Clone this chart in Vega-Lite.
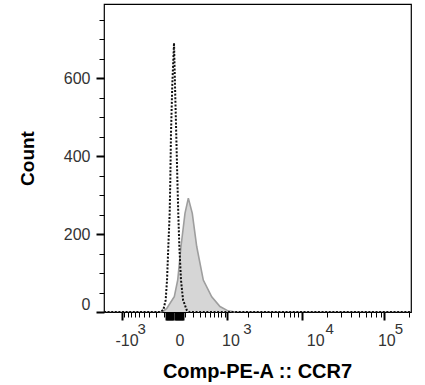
{
  "$schema": "https://vega.github.io/schema/vega-lite/v6.json",
  "width": 307,
  "height": 308,
  "autosize": "none",
  "padding": {"left": 104, "top": 4, "right": 14, "bottom": 73},
  "background": "white",
  "config": {
    "view": {"stroke": "#000000", "strokeWidth": 1.2},
    "axis": {"grid": false, "domain": false, "labelFont": "Liberation Sans", "titleFont": "Liberation Sans", "labelColor": "#333333", "titleColor": "#000000", "tickColor": "#000000"}
  },
  "datasets": {
    "ctrl": [
      {"v": -1815, "c": 0}, {"v": -150, "c": 0}, {"v": -109, "c": 5}, {"v": -83, "c": 31},
      {"v": -69, "c": 82}, {"v": -56, "c": 168}, {"v": -43, "c": 253}, {"v": -37, "c": 337},
      {"v": -31, "c": 454}, {"v": -19, "c": 583}, {"v": -4, "c": 690}, {"v": 4, "c": 583},
      {"v": 15, "c": 454}, {"v": 25, "c": 337}, {"v": 33, "c": 253}, {"v": 43, "c": 168},
      {"v": 59, "c": 82}, {"v": 80, "c": 31}, {"v": 121, "c": 5}, {"v": 148, "c": 0},
      {"v": 209700, "c": 0}
    ],
    "ccr7": [
      {"v": -150, "c": 0}, {"v": -109, "c": 2}, {"v": -72, "c": 9}, {"v": -2, "c": 39},
      {"v": 28, "c": 82}, {"v": 59, "c": 168}, {"v": 101, "c": 253}, {"v": 140, "c": 292},
      {"v": 191, "c": 253}, {"v": 255, "c": 168}, {"v": 366, "c": 82}, {"v": 541, "c": 39},
      {"v": 758, "c": 14}, {"v": 1020, "c": 3}, {"v": 1300, "c": 0}
    ]
  },
  "resolve": {"axis": {"x": "independent", "y": "independent"}},
  "layer": [
    {
      "data": {"name": "ccr7"},
      "mark": {"type": "area", "color": "#d6d6d6", "opacity": 1},
      "encoding": {
        "x": {
          "field": "v", "type": "quantitative",
          "scale": {"type": "symlog", "constant": 300, "domain": [-1815, 209700], "nice": false, "zero": false},
          "axis": {
            "orient": "bottom",
            "values": [-1000, -80, -70, -60, -50, -40, -30, -20, -10, 0, 10, 20, 30, 40, 50, 60, 70, 80, 1000, 10000, 100000],
            "labelExpr": "datum.value == -1000 ? '-10' : datum.value == 0 ? '0' : (datum.value == 1000 || datum.value == 10000 || datum.value == 100000) ? '10' : ''",
            "tickSize": 8, "tickWidth": 2,
            "labelFontSize": 16, "labelPadding": 25, "labelBaseline": "alphabetic",
            "labelAlign": "center", "labelFlush": false, "labelOverlap": false, "labelBound": false,
            "labelOffset": {"expr": "datum.value == 10000 ? 13 : datum.value == 100000 ? 2 : datum.value == 1000 ? 3 : 5"},
            "title": "Comp-PE-A :: CCR7", "titleFontSize": 20, "titleFontWeight": "bold",
            "titleX": 153, "titleY": 65, "titleBaseline": "alphabetic", "titleAlign": "center"
          }
        },
        "y": {
          "field": "c", "type": "quantitative",
          "scale": {"domain": [0, 790], "nice": false, "zero": true},
          "axis": {
            "orient": "left",
            "values": [0, 200, 400, 600],
            "tickSize": 8, "tickWidth": 2,
            "labelFontSize": 16, "labelPadding": 6, "labelFlush": true,
            "title": "Count", "titleFontSize": 19, "titleFontWeight": "bold",
            "titleX": -77, "titleY": 154, "titleAngle": -90, "titleBaseline": "middle", "titleAlign": "center"
          }
        }
      }
    },
    {
      "data": {"name": "ccr7"},
      "mark": {"type": "line", "color": "#9e9e9e", "strokeWidth": 1.6},
      "encoding": {
        "x": {
          "field": "v", "type": "quantitative",
          "scale": {"type": "symlog", "constant": 300, "domain": [-1815, 209700], "nice": false, "zero": false},
          "axis": {
            "orient": "bottom",
            "values": [-900, -800, -700, -600, -500, -400, -300, -200, -100, 100, 200, 300, 400, 500, 600, 700, 800, 900, 2000, 3000, 4000, 5000, 6000, 7000, 8000, 9000, 20000, 30000, 40000, 50000, 60000, 70000, 80000, 90000, 200000],
            "labels": false, "tickSize": 5, "tickWidth": 1, "title": null
          }
        },
        "y": {
          "field": "c", "type": "quantitative",
          "scale": {"domain": [0, 790], "nice": false, "zero": true},
          "axis": {
            "orient": "left",
            "values": [50, 100, 150, 250, 300, 350, 450, 500, 550, 650, 700, 750],
            "labels": false, "tickSize": 5, "tickWidth": 1, "title": null
          }
        }
      }
    },
    {
      "data": {"name": "ctrl"},
      "mark": {"type": "line", "color": "#111111", "strokeWidth": 2, "strokeDash": [2, 1.6]},
      "encoding": {
        "x": {
          "field": "v", "type": "quantitative",
          "scale": {"type": "symlog", "constant": 300, "domain": [-1815, 209700], "nice": false, "zero": false},
          "axis": {
            "orient": "bottom",
            "values": [-1000, 1000, 10000, 100000],
            "ticks": false,
            "labelExpr": "datum.value == 10000 ? '4' : datum.value == 100000 ? '5' : '3'",
            "labelFontSize": 15, "labelPadding": 21, "labelBaseline": "alphabetic",
            "labelAlign": "center", "labelFlush": false, "labelOverlap": false, "labelBound": false,
            "labelOffset": {"expr": "datum.value == 10000 ? 27 : datum.value == 100000 ? 14 : 19.5"},
            "title": null
          }
        },
        "y": {
          "field": "c", "type": "quantitative",
          "scale": {"domain": [0, 790], "nice": false, "zero": true},
          "axis": null
        }
      }
    }
  ]
}
